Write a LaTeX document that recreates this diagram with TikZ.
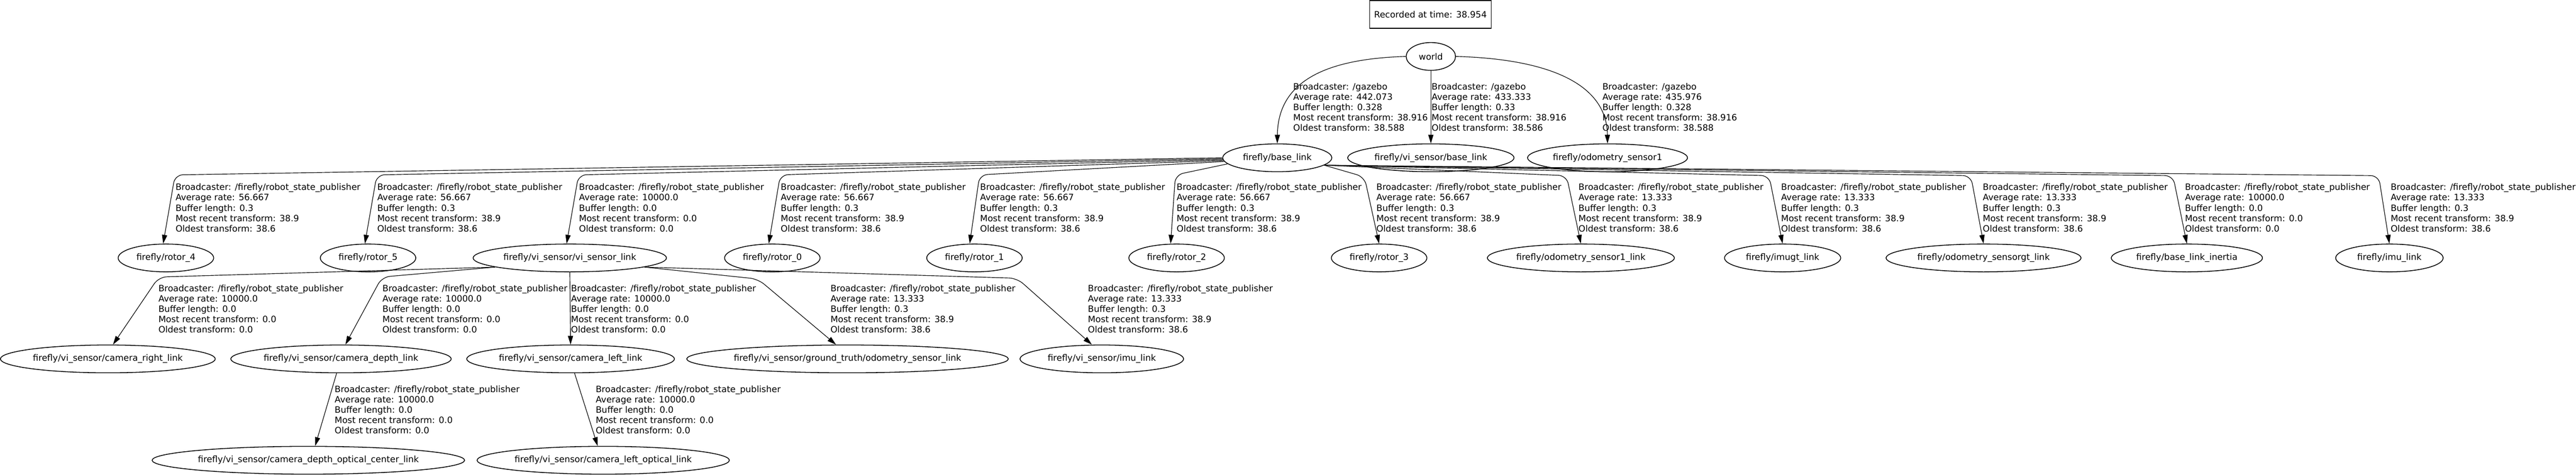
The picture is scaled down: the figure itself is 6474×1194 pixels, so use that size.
\documentclass[tikz,border=0pt]{standalone}
\usepackage{fontspec}
\setmainfont{DejaVu Sans}
\usetikzlibrary{arrows.meta,shapes.geometric}

\newcommand{\tfinfo}[5]{Broadcaster: #1\\Average rate: #2\\Buffer length: #3\\Most recent transform: #4\\Oldest transform: #5}
\newcommand{\rsp}{/firefly/robot\_state\_publisher}

\begin{document}
\begin{tikzpicture}[x=1pt,y=-1pt,>={Triangle[length=22pt,width=13pt]},
  frame/.style={draw,ellipse,line width=2pt,inner sep=0pt,minimum height=70pt,font=\fontsize{22}{26}\selectfont},
  tf/.style={->,line width=1.5pt,rounded corners=20pt},
  info/.style={anchor=north west,inner sep=0pt,align=left,font=\fontsize{22}{26}\selectfont}]
  \useasboundingbox (0,0) rectangle (6474,1194);
  % Time stamp
  \node[draw,line width=2pt,minimum width=306pt,minimum height=70pt,font=\fontsize{22}{26}\selectfont] (stamp) at (3595,36) {Recorded at time: 38.954};
  % Frames
  \node[frame,minimum width=124pt] (world) at (3596,142) {world};
  \node[frame,minimum width=274pt] (base) at (3210,397) {firefly/base\_link};
  \node[frame,minimum width=418pt] (vibase) at (3596,397) {firefly/vi\_sensor/base\_link};
  \node[frame,minimum width=402pt] (odom1) at (4040,397) {firefly/odometry\_sensor1};
  \node[frame,minimum width=240pt] (rotor4) at (417,649) {firefly/rotor\_4};
  \node[frame,minimum width=240pt] (rotor5) at (925,649) {firefly/rotor\_5};
  \node[frame,minimum width=486pt] (vilink) at (1432,649) {firefly/vi\_sensor/vi\_sensor\_link};
  \node[frame,minimum width=240pt] (rotor0) at (1941,649) {firefly/rotor\_0};
  \node[frame,minimum width=240pt] (rotor1) at (2449,649) {firefly/rotor\_1};
  \node[frame,minimum width=240pt] (rotor2) at (2957,649) {firefly/rotor\_2};
  \node[frame,minimum width=240pt] (rotor3) at (3466,649) {firefly/rotor\_3};
  \node[frame,minimum width=470pt] (odomlink) at (3973,649) {firefly/odometry\_sensor1\_link};
  \node[frame,minimum width=292pt] (imugt) at (4480,649) {firefly/imugt\_link};
  \node[frame,minimum width=490pt] (odomgt) at (4985,649) {firefly/odometry\_sensorgt\_link};
  \node[frame,minimum width=380pt] (inertia) at (5496,649) {firefly/base\_link\_inertia};
  \node[frame,minimum width=270pt] (imu) at (6005,649) {firefly/imu\_link};
  \node[frame,minimum width=540pt] (camright) at (271,903) {firefly/vi\_sensor/camera\_right\_link};
  \node[frame,minimum width=554pt] (camdepth) at (857,903) {firefly/vi\_sensor/camera\_depth\_link};
  \node[frame,minimum width=522pt] (camleft) at (1434,903) {firefly/vi\_sensor/camera\_left\_link};
  \node[frame,minimum width=788pt] (gtodom) at (2130,903) {firefly/vi\_sensor/ground\_truth/odometry\_sensor\_link};
  \node[frame,minimum width=411pt] (viimu) at (2769,903) {firefly/vi\_sensor/imu\_link};
  \node[frame,minimum width=770pt] (depthoptical) at (775,1158) {firefly/vi\_sensor/camera\_depth\_optical\_center\_link};
  \node[frame,minimum width=634pt] (leftoptical) at (1516,1158) {firefly/vi\_sensor/camera\_left\_optical\_link};
  % Transforms from world
  \draw[tf] (world.west) .. controls (3330,148) and (3212,205) .. (base.north);
  \draw[tf] (world.south) -- (vibase.north);
  \draw[tf] (world.east) .. controls (3880,148) and (4038,205) .. (odom1.north);
  \node[info] at (3250,209) {\tfinfo{/gazebo}{442.073}{0.328}{38.916}{38.588}};
  \node[info] at (3598,209) {\tfinfo{/gazebo}{433.333}{0.33}{38.916}{38.586}};
  \node[info] at (4027,209) {\tfinfo{/gazebo}{435.976}{0.328}{38.916}{38.588}};
  % Transforms from base_link
  \draw[tf] (base.west) -- (440,440) -- ([xshift=-7pt]rotor4.north);
  \draw[tf] (base.181) -- (947,440) -- ([xshift=-8pt]rotor5.north);
  \draw[tf] (base.182) -- (1454,440) -- ([xshift=-8pt]vilink.north);
  \draw[tf] (base.183) -- (1961,440) -- ([xshift=-9pt]rotor0.north);
  \draw[tf] (base.184) -- (2462,440) -- ([xshift=-12pt]rotor1.north);
  \draw[tf] (base.187) -- (2954,440) -- ([xshift=-15pt]rotor2.north);
  \draw[tf] (base.-9) -- (3429,445) -- (rotor3.north);
  \draw[tf] (base.-9) -- (3937,442) -- (odomlink.north);
  \draw[tf] (base.-9) -- (4446,442) -- (imugt.north);
  \draw[tf] (base.-9) -- (4953,442) -- (odomgt.north);
  \draw[tf] (base.-9) -- (5461,442) -- (inertia.north);
  \draw[tf] (base.-9) -- (5978,442) -- (imu.north);
  \node[info] at (441,462) {\tfinfo{\rsp}{56.667}{0.3}{38.9}{38.6}};
  \node[info] at (948,462) {\tfinfo{\rsp}{56.667}{0.3}{38.9}{38.6}};
  \node[info] at (1455,462) {\tfinfo{\rsp}{10000.0}{0.0}{0.0}{0.0}};
  \node[info] at (1962,462) {\tfinfo{\rsp}{56.667}{0.3}{38.9}{38.6}};
  \node[info] at (2463,462) {\tfinfo{\rsp}{56.667}{0.3}{38.9}{38.6}};
  \node[info] at (2957,462) {\tfinfo{\rsp}{56.667}{0.3}{38.9}{38.6}};
  \node[info] at (3459,462) {\tfinfo{\rsp}{56.667}{0.3}{38.9}{38.6}};
  \node[info] at (3967,462) {\tfinfo{\rsp}{13.333}{0.3}{38.9}{38.6}};
  \node[info] at (4476,462) {\tfinfo{\rsp}{13.333}{0.3}{38.9}{38.6}};
  \node[info] at (4983,462) {\tfinfo{\rsp}{13.333}{0.3}{38.9}{38.6}};
  \node[info] at (5491,462) {\tfinfo{\rsp}{10000.0}{0.0}{0.0}{0.0}};
  \node[info] at (6008,462) {\tfinfo{\rsp}{13.333}{0.3}{38.9}{38.6}};
  % Transforms from vi_sensor_link
  \draw[tf] (vilink.187) -- (399,697) -- ([xshift=13pt]camright.north);
  \draw[tf] (vilink.187) -- (960,697) -- ([xshift=11pt]camdepth.north);
  \draw[tf] (vilink.south) -- (camleft.north);
  \draw[tf] (vilink.-7) -- (1905,702) -- ([xshift=-29pt]gtodom.north);
  \draw[tf] (vilink.-7) -- (2556,700) -- ([xshift=-25pt]viimu.north);
  \node[info] at (398,716) {\tfinfo{\rsp}{10000.0}{0.0}{0.0}{0.0}};
  \node[info] at (961,716) {\tfinfo{\rsp}{10000.0}{0.0}{0.0}{0.0}};
  \node[info] at (1435,716) {\tfinfo{\rsp}{10000.0}{0.0}{0.0}{0.0}};
  \node[info] at (2087,716) {\tfinfo{\rsp}{13.333}{0.3}{38.9}{38.6}};
  \node[info] at (2734,716) {\tfinfo{\rsp}{13.333}{0.3}{38.9}{38.6}};
  % Optical frames
  \draw[tf] ([xshift=-11pt]camdepth.south) -- ([xshift=17pt]depthoptical.north);
  \draw[tf] ([xshift=10pt]camleft.south) -- ([xshift=-14pt]leftoptical.north);
  \node[info] at (841,970) {\tfinfo{\rsp}{10000.0}{0.0}{0.0}{0.0}};
  \node[info] at (1497,970) {\tfinfo{\rsp}{10000.0}{0.0}{0.0}{0.0}};
\end{tikzpicture}
\end{document}
